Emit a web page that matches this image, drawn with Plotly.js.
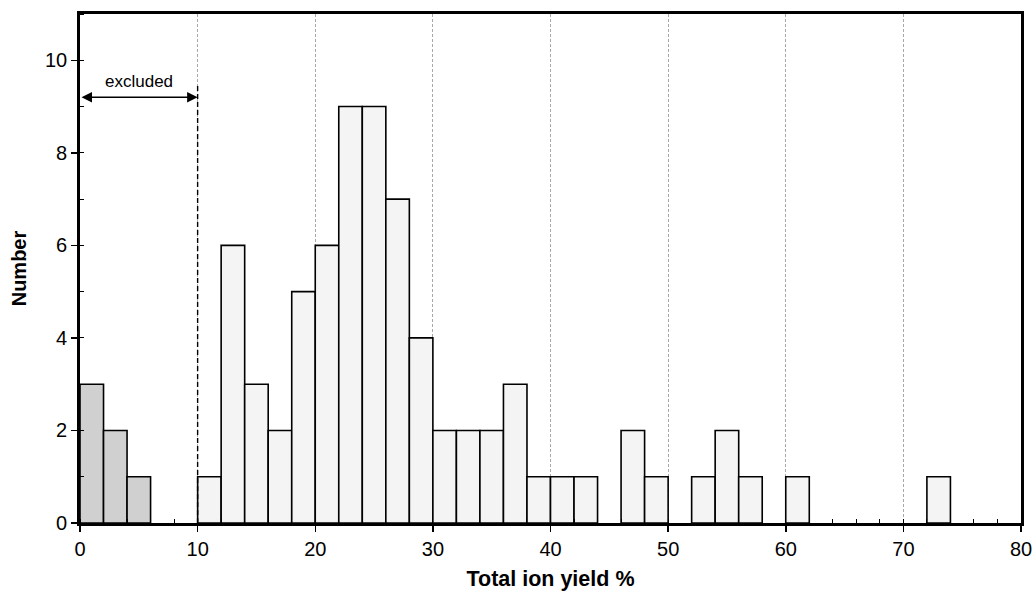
<!DOCTYPE html>
<html><head><meta charset="utf-8">
<script src="https://cdn.plot.ly/plotly-3.0.1.min.js"></script>
<style>html,body{margin:0;padding:0;background:#fff}#chart{width:1033px;height:593px}</style>
</head><body><div id="chart"></div>
<script>
// Bin centres (bin width 2 %) and counts
const excludedBins = [1, 3, 5];
const excludedCounts = [3, 2, 1];
const includedBins = [11,13,15,17,19,21,23,25,27,29,31,33,35,37,39,41,43,47,49,53,55,57,61,73];
const includedCounts = [1,6,3,2,5,6,9,9,7,4,2,2,2,3,1,1,1,2,1,1,2,1,1,1];
const binWidth = 2;
const cutoff = 10;
const xTitle = 'Total ion yield %';
const yTitle = 'Number';
const noteText = 'excluded';

const font = {family: 'Liberation Sans, Arial, sans-serif', color: '#000'};

const traces = [
  {type: 'bar', x: excludedBins, y: excludedCounts, width: excludedBins.map(() => binWidth),
   marker: {color: '#d0d0d0', line: {color: '#000', width: 1.6}}, hoverinfo: 'x+y'},
  {type: 'bar', x: includedBins, y: includedCounts, width: includedBins.map(() => binWidth),
   marker: {color: '#f4f4f4', line: {color: '#000', width: 1.6}}, hoverinfo: 'x+y'}
];

const layout = {
  width: 1033, height: 593,
  margin: {l: 80, r: 12, t: 14, b: 70},
  paper_bgcolor: '#fff', plot_bgcolor: '#fff',
  showlegend: false, barmode: 'overlay',
  font: Object.assign({size: 20}, font),
  xaxis: {
    range: [0, 80], dtick: 10, tick0: 0,
    showline: true, linecolor: '#000', linewidth: 2.8, mirror: true,
    ticks: 'outside', ticklen: 6, tickwidth: 1.5, tickcolor: '#000',
    showgrid: true, gridcolor: '#a8a8a8', gridwidth: 1, griddash: '3px,2px',
    zeroline: false,
    minor: {dtick: 2, ticks: 'inside', ticklen: 4, tickwidth: 1, tickcolor: '#000', showgrid: false},
    tickfont: Object.assign({size: 20}, font),
    title: {text: '<b>' + xTitle + '</b>', font: Object.assign({size: 21.5}, font), standoff: 13}
  },
  yaxis: {
    range: [0, 11], dtick: 2, tick0: 0,
    showline: true, linecolor: '#000', linewidth: 2.8, mirror: true,
    ticks: 'outside', ticklen: 6, tickwidth: 1.5, tickcolor: '#000',
    showgrid: false, zeroline: false,
    minor: {dtick: 1, ticks: 'inside', ticklen: 4, tickwidth: 1, tickcolor: '#000', showgrid: false},
    tickfont: Object.assign({size: 20}, font),
    title: {text: '<b>' + yTitle + '</b>', font: Object.assign({size: 20}, font), standoff: 13}
  },
  shapes: [
    {type: 'line', xref: 'x', yref: 'y', x0: cutoff, x1: cutoff, y0: 0, y1: 9.45,
     line: {color: '#000', width: 1.4, dash: '5px,3px'}}
  ],
  annotations: [
    {xref: 'x', yref: 'y', axref: 'x', ayref: 'y', x: cutoff, y: 9.2, ax: 0, ay: 9.2,
     text: '', showarrow: true, arrowhead: 2, arrowside: 'end+start', arrowsize: 1.4,
     arrowwidth: 1.5, arrowcolor: '#000', standoff: 0, startstandoff: 0},
    {xref: 'x', yref: 'y', x: cutoff / 2, y: 9.55, text: noteText, showarrow: false,
     font: Object.assign({size: 17}, font)}
  ]
};

Plotly.newPlot('chart', traces, layout, {displayModeBar: false, staticPlot: true});
</script>
</body></html>
